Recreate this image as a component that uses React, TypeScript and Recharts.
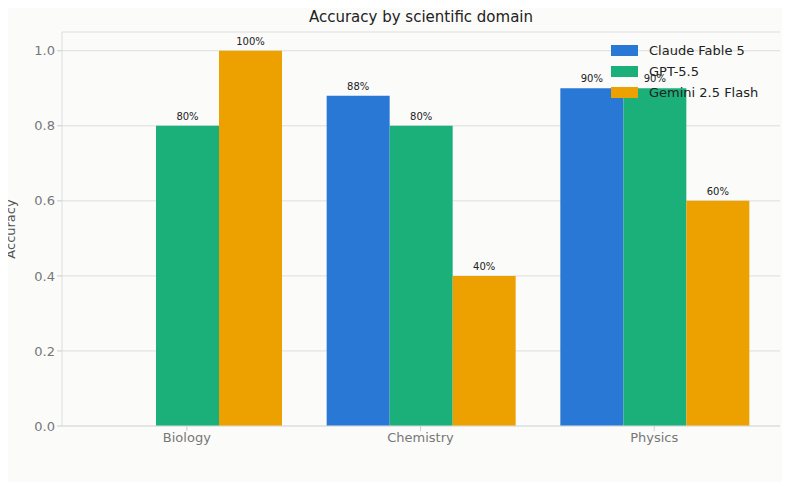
import React from "react";
import { BarChart, Bar, XAxis, YAxis, CartesianGrid, LabelList } from "recharts";

const categories = ["Biology", "Chemistry", "Physics"];
const claude = [0, 0.88, 0.9];
const gpt = [0.8, 0.8, 0.9];
const gemini = [1.0, 0.4, 0.6];
const yTicks = [0, 0.2, 0.4, 0.6, 0.8, 1.0];

const series = [
  { key: "claude", name: "Claude Fable 5", color: "#2a78d6" },
  { key: "gpt", name: "GPT-5.5", color: "#1bb07a" },
  { key: "gemini", name: "Gemini 2.5 Flash", color: "#eda100" },
];

const data = categories.map((c, i) => ({ cat: c, claude: claude[i], gpt: gpt[i], gemini: gemini[i] }));
const font = "'DejaVu Sans', sans-serif";

const renderLabel = (props: any) => {
  const { x, y, width, value } = props;
  return (
    <text x={Number(x) + Number(width) / 2} y={Number(y) - 6} textAnchor="middle" fill="#222" fontSize={10} fontFamily={font}>
      {`${Math.round(Number(value) * 100)}%`}
    </text>
  );
};

export default function App() {
  return (
    <div style={{ margin: -8, width: 790, height: 490, background: "#fbfbfa", position: "relative", fontFamily: font }}>
      <div style={{ position: "absolute", top: 8, left: 62, width: 718, textAlign: "center", fontSize: 15, color: "#222" }}>
        Accuracy by scientific domain
      </div>
      <BarChart width={790} height={490} data={data} margin={{ top: 32, right: 10, bottom: 34, left: 0 }} barCategoryGap={23} barGap={0}>
        <CartesianGrid vertical={false} stroke="#dddddd" />
        <XAxis dataKey="cat" padding={{ left: 8, right: 9 }} tick={{ fill: "#777", fontSize: 13, fontFamily: font }} stroke="#dddddd" tickLine={{ stroke: "#ccc" }} tickSize={5} />
        <YAxis width={62} domain={[0, 1.05]} ticks={yTicks} tickFormatter={(v) => v.toFixed(1)} tick={{ fill: "#777", fontSize: 13, fontFamily: font }} stroke="#dddddd" tickLine={{ stroke: "#ccc" }} tickSize={5}
          label={{ value: "Accuracy", angle: -90, position: "insideLeft", offset: 10, style: { fill: "#555", fontSize: 13, fontFamily: font, textAnchor: "middle" } }} />
        {series.map((s) => (
          <Bar key={s.key} dataKey={s.key} name={s.name} fill={s.color} isAnimationActive={false}>
            <LabelList dataKey={s.key} content={renderLabel} />
          </Bar>
        ))}
      </BarChart>
      <div style={{ position: "absolute", top: 40, left: 611, fontSize: 13, color: "#222" }}>
        {series.map((s) => (
          <div key={s.key} style={{ display: "flex", alignItems: "center", height: 21 }}>
            <span style={{ width: 27, height: 11, background: s.color, display: "inline-block", marginRight: 11 }} />
            {s.name}
          </div>
        ))}
      </div>
    </div>
  );
}
